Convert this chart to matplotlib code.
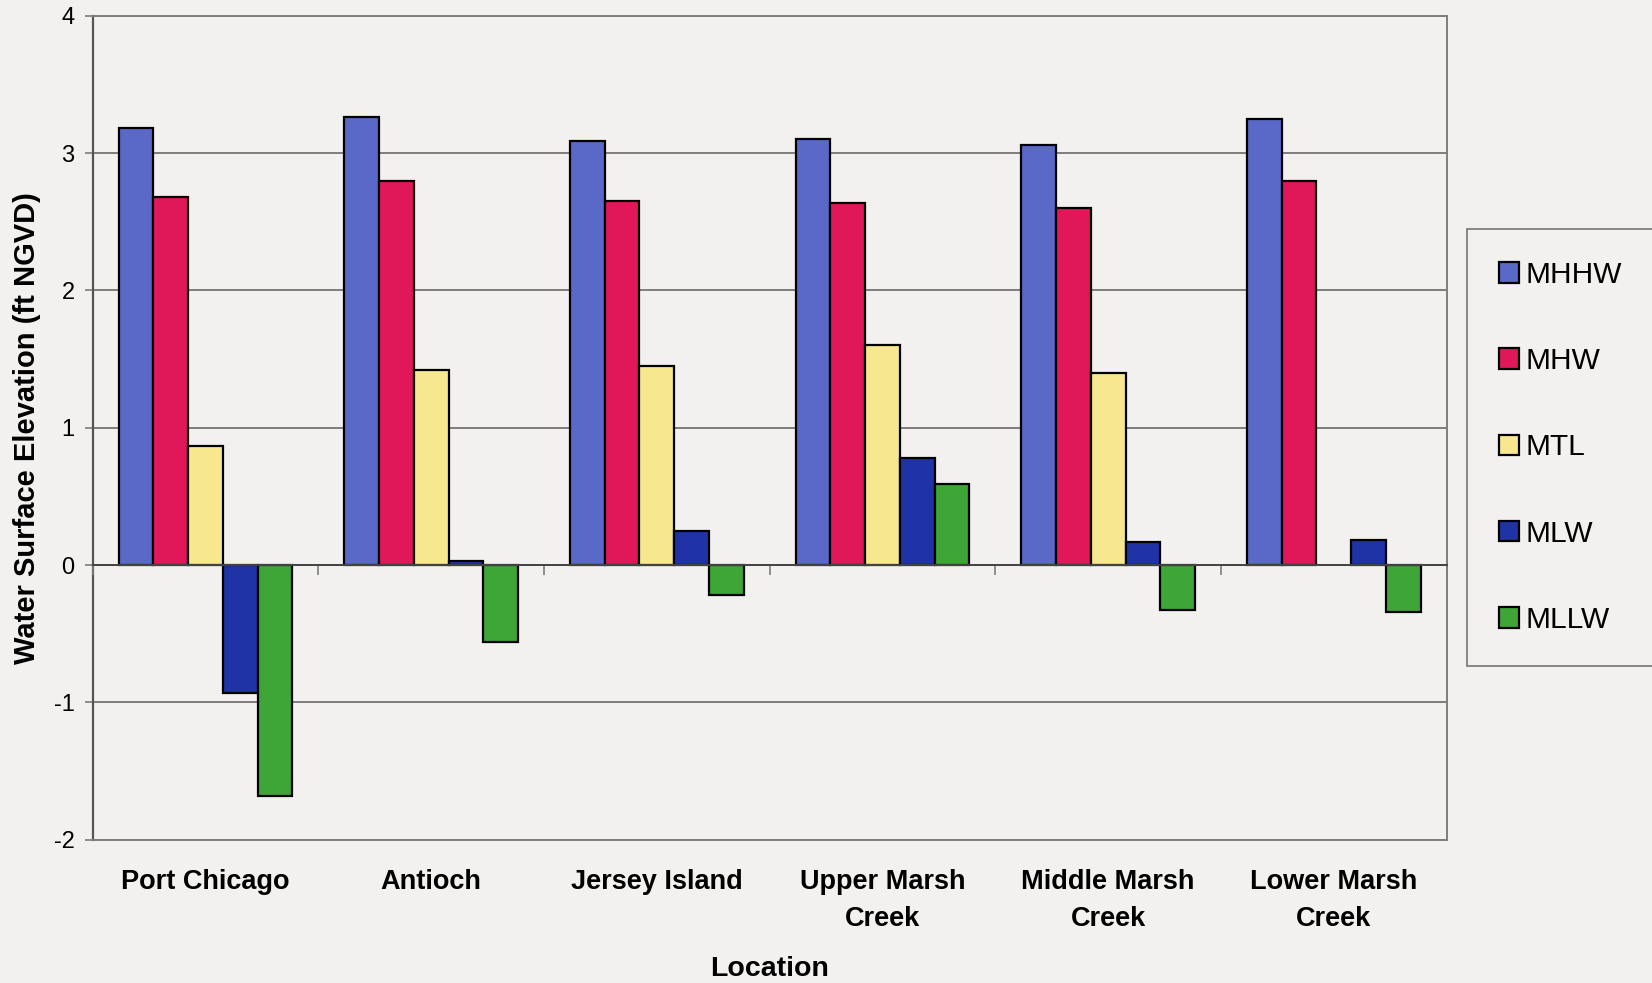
import numpy as np
import matplotlib
matplotlib.use("Agg")
import matplotlib.pyplot as plt

# Tidal datums at each station (ft NGVD)
locations = ["Port Chicago", "Antioch", "Jersey Island", "Upper Marsh\nCreek",
             "Middle Marsh\nCreek", "Lower Marsh\nCreek"]
series_names = ["MHHW", "MHW", "MTL", "MLW", "MLLW"]
mhhw = [3.18, 3.26, 3.09, 3.10, 3.06, 3.25]
mhw = [2.68, 2.80, 2.65, 2.64, 2.60, 2.80]
mtl = [0.87, 1.42, 1.45, 1.60, 1.40, np.nan]
mlw = [-0.93, 0.03, 0.25, 0.78, 0.17, 0.18]
mllw = [-1.68, -0.56, -0.22, 0.59, -0.33, -0.34]
y_ticks = [-2, -1, 0, 1, 2, 3, 4]

colors = ["#5a68c8", "#e0185a", "#f7e88f", "#1f33a6", "#3da637"]
bg = "#f3f1ef"
grid_col = "#7d7d7d"

plt.rcParams["font.family"] = ["Liberation Sans", "DejaVu Sans"]

W, H = 1652, 983
ax_l, ax_r, ax_t, ax_b = 92.7, 1446.6, 15.8, 839.7

fig = plt.figure(figsize=(W / 100, H / 100), dpi=100, facecolor=bg)
ax = fig.add_axes([ax_l / W, 1 - ax_b / H, (ax_r - ax_l) / W, (ax_b - ax_t) / H])
ax.set_facecolor(bg)

x = np.arange(len(locations))
bar_w = 0.154
all_series = [mhhw, mhw, mtl, mlw, mllw]
for i, (name, vals, col) in enumerate(zip(series_names, all_series, colors)):
    offs = (i - 2) * bar_w
    ax.bar(x + offs, vals, width=bar_w, color=col, edgecolor="black",
           linewidth=1.6, label=name, zorder=3)

ax.set_xlim(-0.5, len(locations) - 0.5)
ax.set_ylim(-2, 4)
ax.set_yticks(y_ticks)
ax.set_yticklabels([str(t) for t in y_ticks], fontsize=17)
ax.yaxis.grid(True, color=grid_col, linewidth=1.4, zorder=0)
ax.set_axisbelow(True)
ax.tick_params(axis="y", length=6, width=1.2, color=grid_col, pad=7)

ax.set_xticks(x)
ax.set_xticklabels(locations, fontsize=19.5, fontweight="bold", linespacing=1.55)
ax.tick_params(axis="x", length=0, pad=21)

for side in ["top", "right", "bottom"]:
    ax.spines[side].set_color(grid_col)
    ax.spines[side].set_linewidth(1.4)
ax.spines["left"].set_color("#555555")
ax.spines["left"].set_linewidth(1.6)

# category axis drawn along the zero line, with ticks between groups
zero_frac = (0 - (-2)) / (4 - (-2))
sec = ax.secondary_xaxis(zero_frac)
sec.set_xticks(np.arange(len(locations) + 1) - 0.5)
sec.set_xticklabels([])
sec.tick_params(axis="x", direction="out", length=7, width=1.2, color=grid_col)
sec.spines["bottom"].set_color("#444444")
sec.spines["bottom"].set_linewidth(1.4)
sec.set_zorder(4)

fig.text(27 / W, 1 - 428 / H, "Water Surface Elevation (ft NGVD)", fontsize=21,
         fontweight="bold", rotation=90, ha="center", va="center")
fig.text(770 / W, 1 - 969 / H, "Location", fontsize=20.5, fontweight="bold",
         ha="center", va="center")

leg = fig.legend(loc="upper left", bbox_to_anchor=(1467 / W, 1 - 229 / H),
                 fontsize=21.5, frameon=True, fancybox=False, borderpad=1.07,
                 labelspacing=1.95, handlelength=0.68, handleheight=0.68,
                 handletextpad=0.2, borderaxespad=0)
leg.get_frame().set_facecolor(bg)
leg.get_frame().set_edgecolor("#555555")
leg.get_frame().set_linewidth(1.2)
for h in leg.legend_handles:
    h.set_linewidth(1.6)

fig.savefig("out.png", dpi=100, facecolor=bg)
